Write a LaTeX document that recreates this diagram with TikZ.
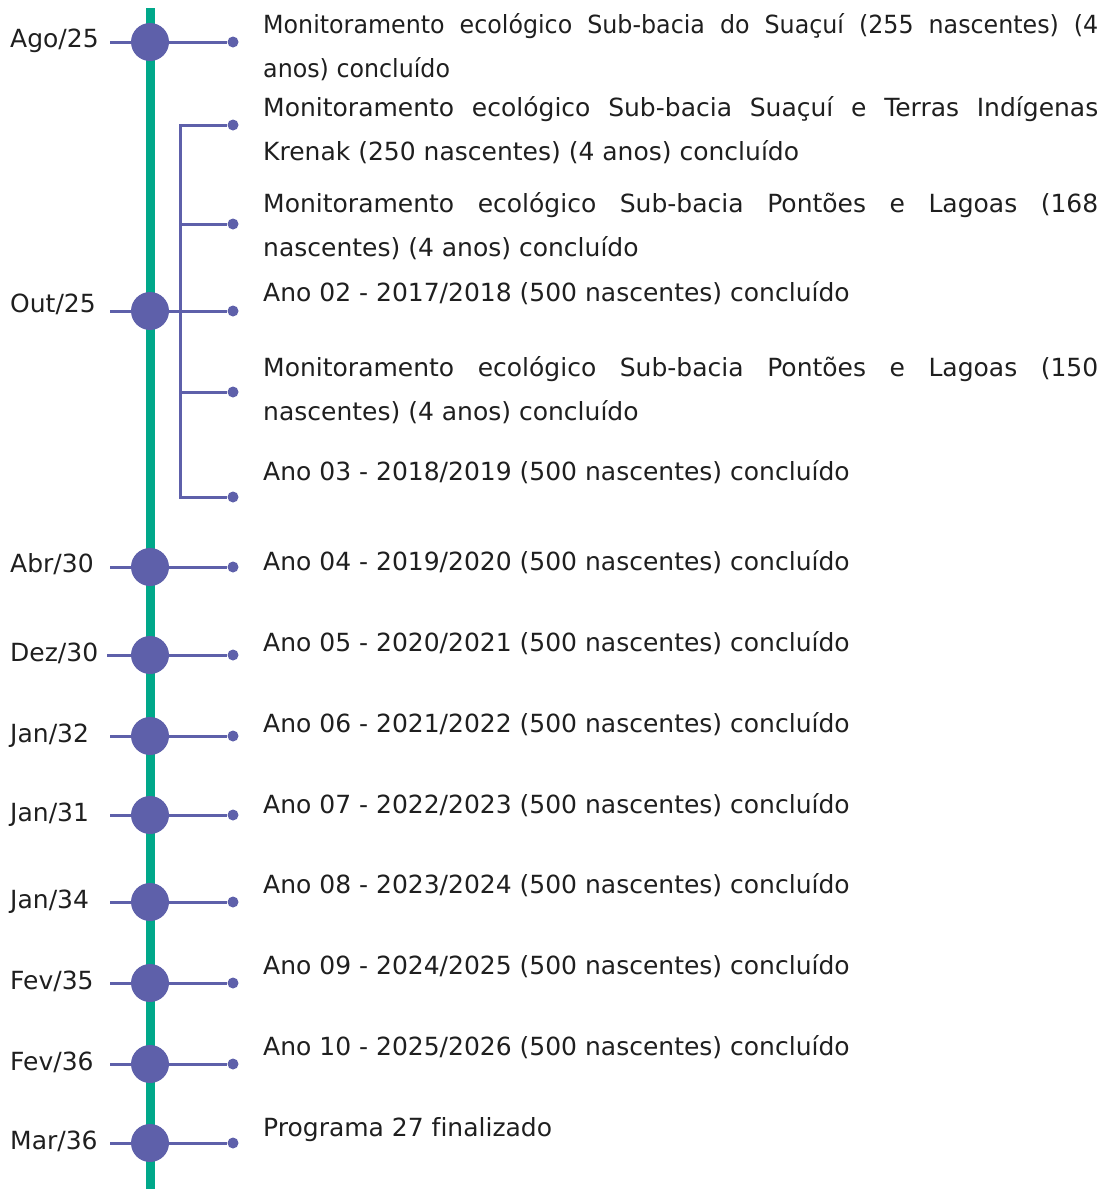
\documentclass[tikz,border=0pt]{standalone}
\usepackage{fontspec}
\setmainfont[Ligatures=NoCommon]{DejaVu Sans}
\newfontfamily\estreita[FakeStretch=0.95,Ligatures=NoCommon]{DejaVu Sans}
\usepackage{tikz}
\usetikzlibrary{calc}

\definecolor{roxo}{RGB}{94,96,170}
\definecolor{verde}{RGB}{0,168,138}

\tikzset{
  eixo/.style={verde, line width=9pt},
  haste/.style={roxo, line width=3pt},
  marco/.style={circle, fill=roxo, minimum size=38pt, inner sep=0pt},
  ponta/.style={circle, fill=roxo, minimum size=11pt, inner sep=0pt},
  data/.style={anchor=base west, inner sep=0pt, text=black!88,
    font=\fontsize{25}{44}\selectfont},
  texto/.style={anchor=base west, inner sep=0pt, text=black!88,
    text width=835pt, align=justify, font=\fontsize{25}{44}\selectfont}
}

\begin{document}
\begin{tikzpicture}[x=1pt,y=-1pt]
    \useasboundingbox (0,0) rectangle (1104,1189);
    \def\xe{150}
    \def\xr{180}
    \def\xp{233}
    \def\xt{263}
    % centros dos marcos
    \coordinate (c1) at (\xe,42);
    \coordinate (c2) at (\xe,311);
    \coordinate (c3) at (\xe,567);
    \coordinate (c4) at (\xe,655);
    \coordinate (c5) at (\xe,736);
    \coordinate (c6) at (\xe,815);
    \coordinate (c7) at (\xe,902);
    \coordinate (c8) at (\xe,983);
    \coordinate (c9) at (\xe,1064);
    \coordinate (c10) at (\xe,1143);
    \coordinate (topo) at (\xe,8);
    \coordinate (fundo) at (\xe,1189);
    \coordinate (r1) at (\xr,125);
    \coordinate (r5) at (\xr,497);
    % eixo
    \draw[eixo] (topo) -- (fundo);
    % pontas
    \node[ponta] (p1) at (\xp,42) {};
    \node[ponta] (p2) at (\xp,311) {};
    \node[ponta] (p3) at (\xp,567) {};
    \node[ponta] (p4) at (\xp,655) {};
    \node[ponta] (p5) at (\xp,736) {};
    \node[ponta] (p6) at (\xp,815) {};
    \node[ponta] (p7) at (\xp,902) {};
    \node[ponta] (p8) at (\xp,983) {};
    \node[ponta] (p9) at (\xp,1064) {};
    \node[ponta] (p10) at (\xp,1143) {};
    \node[ponta] (q1) at (\xp,125) {};
    \node[ponta] (q2) at (\xp,224) {};
    \node[ponta] (q4) at (\xp,392) {};
    \node[ponta] (q5) at (\xp,497) {};
    % hastes
    \draw[haste] (c1 -| 110,0) -- (p1);
    \draw[haste] (c2 -| 110,0) -- (p2);
    \draw[haste] (c3 -| 110,0) -- (p3);
    \draw[haste] (c4 -| 107,0) -- (p4);
    \draw[haste] (c5 -| 110,0) -- (p5);
    \draw[haste] (c6 -| 110,0) -- (p6);
    \draw[haste] (c7 -| 110,0) -- (p7);
    \draw[haste] (c8 -| 110,0) -- (p8);
    \draw[haste] (c9 -| 110,0) -- (p9);
    \draw[haste] (c10 -| 110,0) -- (p10);
    % ramo de Out/25
    \draw[haste] (q1) -- (r1) -- (r5) -- (q5);
    \draw[haste] (q2) -- (q2 -| r1);
    \draw[haste] (q4) -- (q4 -| r1);
    % marcos
    \node[marco] (m1) at (c1) {};
    \node[marco] (m2) at (c2) {};
    \node[marco] (m3) at (c3) {};
    \node[marco] (m4) at (c4) {};
    \node[marco] (m5) at (c5) {};
    \node[marco] (m6) at (c6) {};
    \node[marco] (m7) at (c7) {};
    \node[marco] (m8) at (c8) {};
    \node[marco] (m9) at (c9) {};
    \node[marco] (m10) at (c10) {};
    % datas
    \node[data] (d1) at (10,47) {Ago/25};
    \node[data] (d2) at (10,312) {Out/25};
    \node[data] (d3) at (10,572) {Abr/30};
    \node[data] (d4) at (10,661) {Dez/30};
    \node[data] (d5) at (10,742) {Jan/32};
    \node[data] (d6) at (10,821) {Jan/31};
    \node[data] (d7) at (10,908) {Jan/34};
    \node[data] (d8) at (10,989) {Fev/35};
    \node[data] (d9) at (10,1070) {Fev/36};
    \node[data] (d10) at (10,1149) {Mar/36};
    % textos
    \node[texto] (t1) at (\xt,33) {\estreita Monitoramento ecológico Sub-bacia do Suaçuí (255 nascentes) (4\linebreak anos) concluído};
    \node[texto] (t2) at (\xt,116) {Monitoramento ecológico Sub-bacia Suaçuí e Terras Indígenas\linebreak Krenak (250 nascentes) (4 anos) concluído};
    \node[texto] (t3) at (\xt,212) {Monitoramento ecológico Sub-bacia Pontões e Lagoas (168\linebreak nascentes) (4 anos) concluído};
    \node[data] (t4) at (\xt,301) {Ano 02 - 2017/2018 (500 nascentes) concluído};
    \node[texto] (t5) at (\xt,376) {Monitoramento ecológico Sub-bacia Pontões e Lagoas (150\linebreak nascentes) (4 anos) concluído};
    \node[data] (t6) at (\xt,480) {Ano 03 - 2018/2019 (500 nascentes) concluído};
    \node[data] (t7) at (\xt,570) {Ano 04 - 2019/2020 (500 nascentes) concluído};
    \node[data] (t8) at (\xt,651) {Ano 05 - 2020/2021 (500 nascentes) concluído};
    \node[data] (t9) at (\xt,732) {Ano 06 - 2021/2022 (500 nascentes) concluído};
    \node[data] (t10) at (\xt,813) {Ano 07 - 2022/2023 (500 nascentes) concluído};
    \node[data] (t11) at (\xt,893) {Ano 08 - 2023/2024 (500 nascentes) concluído};
    \node[data] (t12) at (\xt,974) {Ano 09 - 2024/2025 (500 nascentes) concluído};
    \node[data] (t13) at (\xt,1055) {Ano 10 - 2025/2026 (500 nascentes) concluído};
    \node[data] (t14) at (\xt,1136) {Programa 27 finalizado};
\end{tikzpicture}
\end{document}
